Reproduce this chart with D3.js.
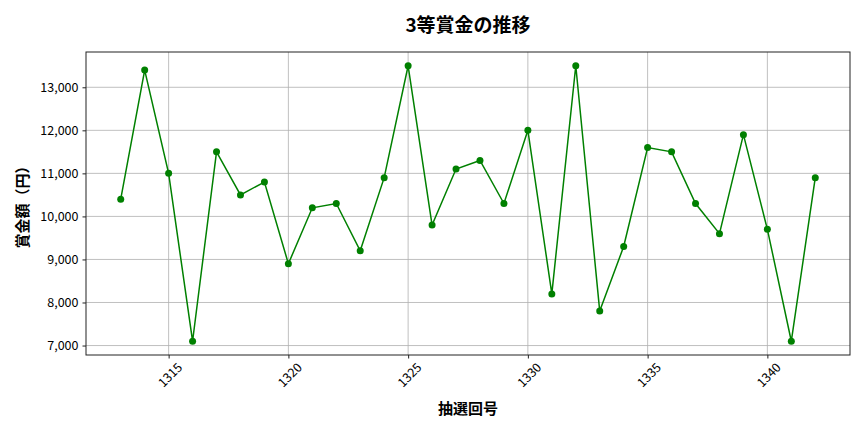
<!DOCTYPE html>
<html>
<head>
<meta charset="utf-8">
<script src="https://cdn.jsdelivr.net/npm/d3@7"></script>
<style>
  body { margin: 0; background: #fff; }
  text { font-family: "Noto Sans CJK JP", "Noto Sans", sans-serif; }
</style>
</head>
<body>
<svg id="chart" width="864" height="432"></svg>
<script>
// 3等賞金の推移 data
const rounds = [1313, 1314, 1315, 1316, 1317, 1318, 1319, 1320, 1321, 1322,
                1323, 1324, 1325, 1326, 1327, 1328, 1329, 1330, 1331, 1332,
                1333, 1334, 1335, 1336, 1337, 1338, 1339, 1340, 1341, 1342];
const prizes = [10400, 13400, 11000, 7100, 11500, 10500, 10800, 8900, 10200, 10300,
                9200, 10900, 13500, 9800, 11100, 11300, 10300, 12000, 8200, 13500,
                7800, 9300, 11600, 11500, 10300, 9600, 11900, 9700, 7100, 10900];
const xTicks = [1315, 1320, 1325, 1330, 1335, 1340];
const yTicks = [7000, 8000, 9000, 10000, 11000, 12000, 13000];

const margin = { top: 52, right: 14, bottom: 77, left: 86 };
const svg = d3.select('#chart');
const width = 864, height = 432;
const innerWidth = width - margin.left - margin.right;
const innerHeight = height - margin.top - margin.bottom;

const g = svg.append('g')
  .attr('transform', 'translate(' + margin.left + ',' + margin.top + ')');

// matplotlib style 5% padding
const xMin = d3.min(rounds), xMax = d3.max(rounds);
const xPad = (xMax - xMin) * 0.05;
const x = d3.scaleLinear()
  .domain([xMin - xPad, xMax + xPad])
  .range([0, innerWidth]);

const yMin = d3.min(prizes), yMax = d3.max(prizes);
const yPad = (yMax - yMin) * 0.05;
const y = d3.scaleLinear()
  .domain([yMin - yPad, yMax + yPad])
  .range([innerHeight, 0]);

// grid
g.append('g')
  .selectAll('line')
  .data(xTicks)
  .join('line')
  .attr('x1', d => x(d)).attr('x2', d => x(d))
  .attr('y1', 0).attr('y2', innerHeight)
  .attr('stroke', '#b0b0b0').attr('stroke-width', 0.8);

g.append('g')
  .selectAll('line')
  .data(yTicks)
  .join('line')
  .attr('x1', 0).attr('x2', innerWidth)
  .attr('y1', d => y(d)).attr('y2', d => y(d))
  .attr('stroke', '#b0b0b0').attr('stroke-width', 0.8);

// x axis
const xAxis = g.append('g')
  .attr('transform', 'translate(0,' + innerHeight + ')')
  .call(d3.axisBottom(x).tickValues(xTicks).tickFormat(d3.format('d')).tickSize(3.5).tickPadding(0));
xAxis.select('.domain').remove();
xAxis.selectAll('line').attr('stroke', '#222');
xAxis.selectAll('text')
  .attr('font-size', 12.5)
  .attr('fill', '#000')
  .attr('text-anchor', 'middle')
  .attr('y', 0)
  .attr('dy', '0.35em')
  .attr('transform', 'translate(1,20) rotate(-45)');

// y axis
const yAxis = g.append('g')
  .call(d3.axisLeft(y).tickValues(yTicks).tickFormat(d3.format(',')).tickSize(3.5).tickPadding(4));
yAxis.select('.domain').remove();
yAxis.selectAll('line').attr('stroke', '#222');
yAxis.selectAll('text').attr('font-size', 12.5).attr('fill', '#000');

// frame
g.append('rect')
  .attr('width', innerWidth).attr('height', innerHeight)
  .attr('fill', 'none').attr('stroke', '#222').attr('stroke-width', 1);

// line
g.append('path')
  .datum(rounds.map((r, i) => [r, prizes[i]]))
  .attr('fill', 'none')
  .attr('stroke', 'green')
  .attr('stroke-width', 1.5)
  .attr('d', d3.line().x(d => x(d[0])).y(d => y(d[1])));

g.append('g')
  .selectAll('circle')
  .data(rounds.map((r, i) => [r, prizes[i]]))
  .join('circle')
  .attr('cx', d => x(d[0]))
  .attr('cy', d => y(d[1]))
  .attr('r', 3.5)
  .attr('fill', 'green');

// title
svg.append('text')
  .attr('x', margin.left + innerWidth / 2)
  .attr('y', 32)
  .attr('text-anchor', 'middle')
  .attr('font-size', 19)
  .attr('font-weight', 'bold')
  .text('3等賞金の推移');

// axis labels
svg.append('text')
  .attr('x', margin.left + innerWidth / 2)
  .attr('y', 414)
  .attr('text-anchor', 'middle')
  .attr('font-size', 15)
  .attr('font-weight', 'bold')
  .text('抽選回号');

svg.append('text')
  .attr('transform', 'rotate(-90)')
  .attr('x', -(margin.top + innerHeight / 2))
  .attr('y', 28)
  .attr('text-anchor', 'middle')
  .attr('font-size', 15)
  .attr('font-weight', 'bold')
  .text('賞金額（円）');
</script>
</body>
</html>
